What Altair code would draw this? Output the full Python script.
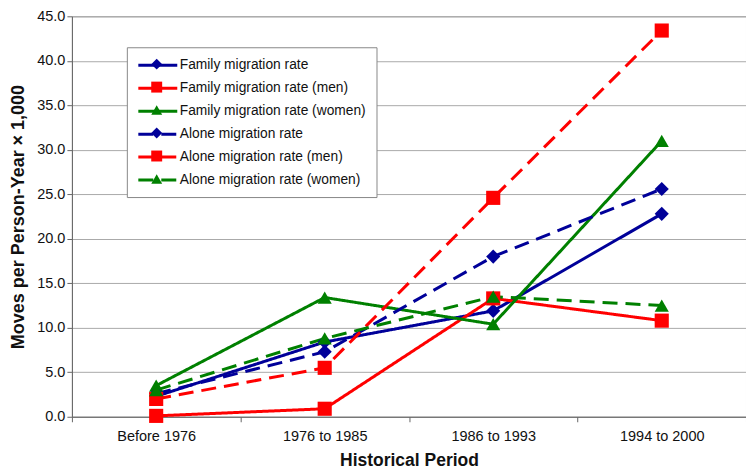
import altair as alt
import pandas as pd

periods = ["Before 1976", "1976 to 1985", "1986 to 1993", "1994 to 2000"]
series = [
    "Family migration rate",
    "Family migration rate (men)",
    "Family migration rate (women)",
    "Alone migration rate",
    "Alone migration rate (men)",
    "Alone migration rate (women)",
]
family_rate = [2.3, 8.4, 11.9, 22.8]
family_men = [0.1, 0.9, 13.3, 10.8]
family_women = [3.5, 13.4, 10.4, 31.0]
alone_rate = [2.6, 7.3, 18.0, 25.6]
alone_men = [2.0, 5.5, 24.6, 43.4]
alone_women = [3.0, 8.8, 13.5, 12.5]

values = [family_rate, family_men, family_women, alone_rate, alone_men, alone_women]
colors = ["#000099", "#FF0000", "#008000", "#000099", "#FF0000", "#008000"]
dashes = [[1, 0], [1, 0], [1, 0], [15, 8], [15, 8], [15, 8]]
shapes = ["diamond", "square", "triangle-up", "diamond", "square", "triangle-up"]

rows = []
for s, vals in zip(series, values):
    for p, v in zip(periods, vals):
        rows.append({"period": p, "series": s, "value": v})
df = pd.DataFrame(rows)

FONT = "Liberation Sans"

x_enc = alt.X(
    "period:N",
    sort=periods,
    scale=alt.Scale(type="band", paddingInner=0, paddingOuter=0),
    axis=alt.Axis(
        title="Historical Period",
        tickBand="extent",
        labelAngle=0,
        labelFontSize=14.5,
        labelColor="#111",
        labelPadding=8,
        tickSize=5,
        tickColor="#666",
        domainColor="#666",
        titleFontSize=17.5,
        titleFontWeight="bold",
        titleColor="#111",
        titlePadding=8,
        grid=False,
    ),
)
y_enc = alt.Y(
    "value:Q",
    scale=alt.Scale(domain=[0, 45], nice=False),
    axis=alt.Axis(
        title="Moves per Person-Year × 1,000",
        values=[0, 5, 10, 15, 20, 25, 30, 35, 40, 45],
        format=".1f",
        labelFontSize=14.5,
        labelColor="#111",
        labelPadding=2,
        tickSize=5,
        tickColor="#666",
        domainColor="#666",
        gridColor="#aaaaaa",
        titleFontSize=18,
        titleFontWeight="bold",
        titleColor="#111",
        titlePadding=9,
    ),
)

color_scale = alt.Scale(domain=series, range=colors)

LX, LY = 55, 31
RP = 8

lines = alt.Chart(df).mark_line(strokeWidth=3).encode(
    x=x_enc,
    y=y_enc,
    color=alt.Color(
        "series:N",
        scale=color_scale,
        legend=alt.Legend(
            title=None,
            orient="none",
            legendX=LX,
            legendY=LY,
            symbolType="M-3,0H3",
            symbolSize=169,
            symbolStrokeWidth=3,
            symbolOffset=13,
            labelOffset=14,
            labelFont=FONT,
            labelFontSize=13.8,
            labelColor="#111",
            labelLimit=300,
            rowPadding=RP,
            padding=10,
            strokeColor="#888",
            fillColor="white",
        ),
    ),
    strokeDash=alt.StrokeDash(
        "series:N",
        scale=alt.Scale(domain=series, range=dashes),
        legend=alt.Legend(
            title=None,
            orient="none",
            legendX=LX,
            legendY=LY,
        ),
    ),
)

points = alt.Chart(df).mark_point(filled=True, size=200, opacity=1).encode(
    x=x_enc,
    y=y_enc,
    color=alt.Color(
        "series:N",
        scale=color_scale,
        legend=alt.Legend(
            title=None,
            orient="none",
            legendX=LX,
            legendY=LY,
            symbolSize=120,
            symbolOffset=13,
            labelExpr="''",
            labelOffset=0,
            labelFontSize=13.8,
            rowPadding=RP,
            padding=10,
        ),
    ),
    shape=alt.Shape(
        "series:N",
        scale=alt.Scale(domain=series, range=shapes),
        legend=alt.Legend(
            title=None,
            orient="none",
            legendX=LX,
            legendY=LY,
        ),
    ),
)

chart = (
    alt.layer(lines, points)
    .resolve_legend(color="independent", shape="independent", strokeDash="independent")
    .properties(
        width=675,
        height=401,
        autosize=alt.AutoSizeParams(type="none"),
        padding={"left": 64, "top": 8, "right": 0, "bottom": 56},
    )
    .configure(font=FONT)
    .configure_view(stroke="#999", strokeWidth=1)
)

chart.save("out.html", embed_options={"renderer": "svg", "actions": False})
